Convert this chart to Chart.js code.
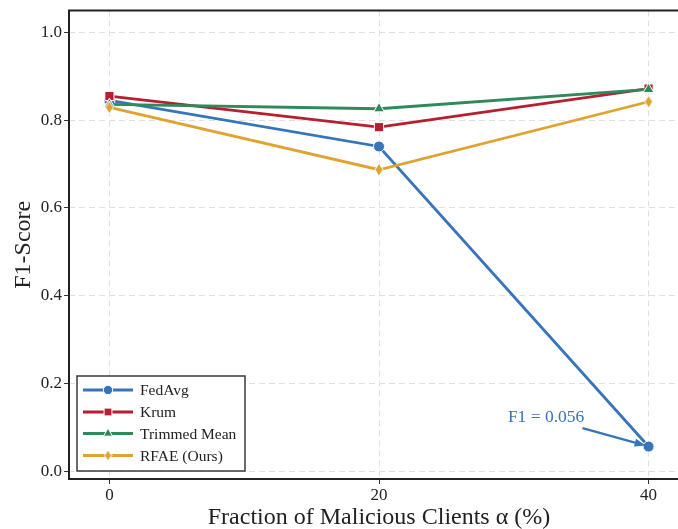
<!DOCTYPE html>
<html><head><meta charset="utf-8">
<script src="https://cdn.jsdelivr.net/npm/chart.js@4/dist/chart.umd.min.js"></script>
<style>
html,body{margin:0;padding:0;background:#fff;overflow:hidden;}
#wrap{width:678px;height:529px;overflow:hidden;position:relative;}
#box{width:700px;height:529px;position:absolute;left:0;top:0;}
</style></head>
<body><div id="wrap"><div id="box"><canvas id="c" width="700" height="529"></canvas></div></div>
<script>
const alphas = [0, 20, 40];
const fedAvg = [0.845, 0.740, 0.056];
const krum = [0.855, 0.784, 0.872];
const trimmedMean = [0.836, 0.826, 0.870];
const rfae = [0.829, 0.687, 0.842];
const seriesNames = ['FedAvg', 'Krum', 'Trimmed Mean', 'RFAE (Ours)'];
const colors = ['#3674bb', '#b81d30', '#2e8a58', '#e0a331'];
const yTicks = [0.0, 0.2, 0.4, 0.6, 0.8, 1.0];
const xTicks = [0, 20, 40];
const annotationText = 'F1 = 0.056';

function diamondCanvas(color, w, h) {
  const c = document.createElement('canvas');
  c.width = w + 2; c.height = h + 2;
  const g = c.getContext('2d');
  g.beginPath();
  g.moveTo(c.width/2, 1); g.lineTo(c.width-1, c.height/2);
  g.lineTo(c.width/2, c.height-1); g.lineTo(1, c.height/2); g.closePath();
  g.fillStyle = color; g.fill();
  g.strokeStyle = '#fff'; g.lineWidth = 1; g.stroke();
  return c;
}
const diamond = diamondCanvas(colors[3], 8, 13);
const diamondSmall = diamondCanvas(colors[3], 7, 11);

const styles = ['circle', 'rect', 'triangle', diamond];
const legendStyles = ['circle', 'rect', 'triangle', diamondSmall];
const radii = [5.5, 6.5, 6.2, 6];
const allData = [fedAvg, krum, trimmedMean, rfae];

const datasets = allData.map((vals, i) => ({
  label: seriesNames[i],
  data: alphas.map((a, j) => ({x: a, y: vals[j]})),
  borderColor: colors[i],
  backgroundColor: colors[i],
  borderWidth: 2.8,
  pointStyle: styles[i],
  pointRadius: radii[i],
  pointBorderColor: '#fff',
  pointBorderWidth: 1,
  pointBackgroundColor: colors[i],
  tension: 0,
  order: 4 - i
}));

const serif = "'Liberation Serif', 'DejaVu Serif', serif";

const decor = {
  id: 'decor',
  beforeDatasetsDraw(chart) {
    const {ctx, chartArea} = chart;
    ctx.save();
    ctx.setLineDash([]);
    ctx.strokeStyle = '#222';
    ctx.lineWidth = 2;
    ctx.beginPath();
    ctx.moveTo(chartArea.left, chartArea.top);
    ctx.lineTo(chartArea.right, chartArea.top);
    ctx.lineTo(chartArea.right, chartArea.bottom);
    ctx.moveTo(chartArea.left, chartArea.top - 1);
    ctx.lineTo(chartArea.left, chartArea.bottom + 1);
    ctx.moveTo(chartArea.left - 1, chartArea.bottom);
    ctx.lineTo(chartArea.right, chartArea.bottom);
    ctx.stroke();
    ctx.restore();
  },
  afterDraw(chart) {
    const {ctx} = chart;
    const xs = chart.scales.x, ys = chart.scales.y;
    ctx.save();
    ctx.setLineDash([]);
    // annotation
    const px = xs.getPixelForValue(alphas[2]);
    const py = ys.getPixelForValue(fedAvg[2]);
    const tx = xs.getPixelForValue(32.4), ty = ys.getPixelForValue(0.123);
    ctx.font = '17.5px ' + serif;
    ctx.fillStyle = colors[0];
    ctx.textAlign = 'center'; ctx.textBaseline = 'middle';
    ctx.fillText(annotationText, tx, ty);
    const sx = xs.getPixelForValue(35.1), sy = ys.getPixelForValue(0.098);
    const ex = px - 3, ey = py - 1;
    const ang = Math.atan2(ey - sy, ex - sx);
    const hl = 11, hw = 4;
    const bx = ex - hl * Math.cos(ang), by = ey - hl * Math.sin(ang);
    ctx.strokeStyle = colors[0]; ctx.lineWidth = 2.2;
    ctx.beginPath(); ctx.moveTo(sx, sy); ctx.lineTo(bx, by); ctx.stroke();
    ctx.beginPath();
    ctx.moveTo(ex, ey);
    ctx.lineTo(bx + hw * Math.sin(ang), by - hw * Math.cos(ang));
    ctx.lineTo(bx - hw * Math.sin(ang), by + hw * Math.cos(ang));
    ctx.closePath(); ctx.fillStyle = colors[0]; ctx.fill();

    // legend
    const lx = 77, ly = 376, lw = 168, lh = 95;
    ctx.fillStyle = 'rgba(255,255,255,0.92)';
    ctx.fillRect(lx, ly, lw, lh);
    ctx.strokeStyle = '#3a3a3a'; ctx.lineWidth = 1.5;
    ctx.strokeRect(lx, ly, lw, lh);
    const rows = [390, 412, 433.5, 455.5];
    chart.data.datasets.forEach((ds, i) => {
      const y = rows[i];
      ctx.strokeStyle = ds.borderColor; ctx.lineWidth = 2.8;
      ctx.beginPath(); ctx.moveTo(83, y); ctx.lineTo(133, y); ctx.stroke();
      ctx.fillStyle = ds.backgroundColor;
      ctx.strokeStyle = '#fff'; ctx.lineWidth = 1;
      Chart.helpers.drawPoint(ctx, {
        pointStyle: legendStyles[i], radius: ds.pointRadius * 0.85, borderWidth: 1, rotation: 0
      }, 108, y);
      ctx.fillStyle = '#222';
      ctx.font = '15.5px ' + serif;
      ctx.textAlign = 'left'; ctx.textBaseline = 'middle';
      ctx.fillText(ds.label, 140, y + 1);
    });
    ctx.restore();
  }
};

const gridOpts = {color: '#dfe0e6', lineWidth: 1,
  tickColor: '#333', tickLength: 5, tickWidth: 1, tickBorderDash: [0, 0]};

new Chart(document.getElementById('c'), {
  type: 'line',
  data: {datasets},
  options: {
    responsive: false,
    animation: false,
    layout: {padding: {top: 10, right: 11, left: 0, bottom: 0}},
    plugins: {legend: {display: false}, tooltip: {enabled: false}},
    scales: {
      x: {
        type: 'linear', min: -3, max: 43,
        afterBuildTicks: s => { s.ticks = xTicks.map(v => ({value: v})); },
        afterFit: s => { s.height = 50; },
        ticks: {font: {family: serif, size: 17, lineHeight: 1.0}, color: '#222', padding: 3},
        grid: gridOpts,
        border: {display: true, color: 'rgba(0,0,0,0)', width: 0, dash: [6, 4]},
        title: {display: true, text: 'Fraction of Malicious Clients α (%)',
                font: {family: serif, size: 24}, color: '#222', padding: {top: 0, bottom: -3}}
      },
      y: {
        type: 'linear', min: -0.018, max: 1.05,
        afterBuildTicks: s => { s.ticks = yTicks.map(v => ({value: v})); },
        afterFit: s => { s.width = 69; },
        ticks: {font: {family: serif, size: 17, lineHeight: 1.0}, color: '#222', padding: 2,
                callback: v => Number(v).toFixed(1)},
        grid: gridOpts,
        border: {display: true, color: 'rgba(0,0,0,0)', width: 0, dash: [6, 4]},
        title: {display: true, text: 'F1-Score', font: {family: serif, size: 24},
                color: '#222', padding: {top: 9, bottom: 0}}
      }
    }
  },
  plugins: [decor]
});
</script></body></html>
